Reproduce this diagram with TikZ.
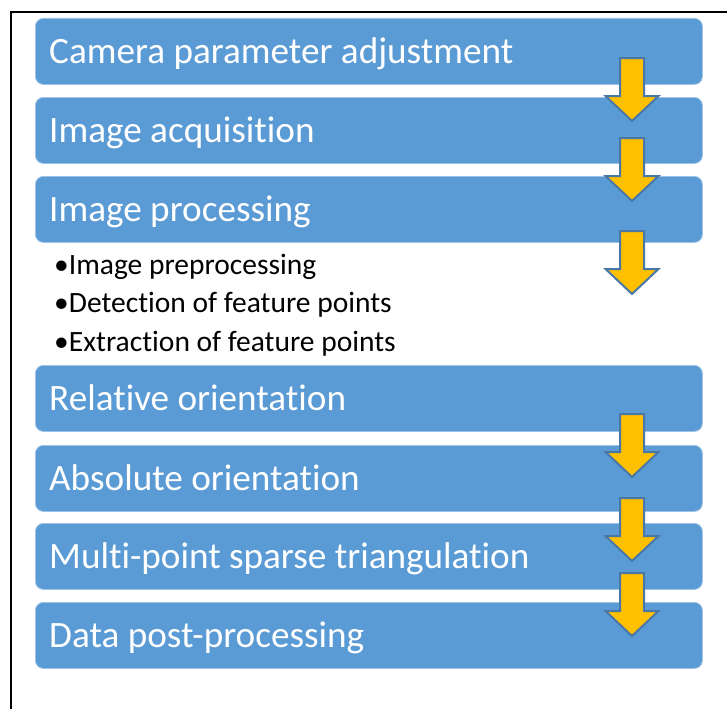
\documentclass[tikz,border=0pt]{standalone}
\usepackage{fontspec}
\setmainfont{Carlito}[Ligatures=NoCommon]
\usetikzlibrary{calc}
\definecolor{boxblue}{HTML}{5B9BD5}
\definecolor{arrowgold}{HTML}{FFC000}
\definecolor{arrowedge}{HTML}{4A78A6}
\begin{document}
\begin{tikzpicture}[x=1pt,y=-1pt,
  stepbox/.style={fill=boxblue, draw=boxblue!60!white, line width=0.8pt,
    rounded corners=8pt, minimum width=667, minimum height=66,
    anchor=north west, inner sep=0pt},
  steplabel/.style={anchor=base west, text=white, inner sep=0pt,
    font=\fontsize{37.2}{42}\selectfont},
  bulletline/.style={anchor=base west, inner sep=0pt,
    font=\fontsize{29.5}{33}\selectfont},
  flowarrow/.style={fill=arrowgold, draw=arrowedge, line width=2pt, line join=miter}]
\useasboundingbox (0,0) rectangle (727,709);

% frame (top and left edges)
\draw[line width=2.2pt] (10.7,709) -- (10.7,12) -- (727,12);

% process steps
\foreach \n/\top/\txt in {
    1/18/Camera parameter adjustment,
    2/97/Image acquisition,
    3/176/Image processing,
    4/365/Relative orientation,
    5/445/Absolute orientation,
    6/523/Multi-point sparse triangulation,
    7/602/Data post-processing} {
  \node[stepbox] (s\n) at (35,\top) {};
  \node[steplabel] (t\n) at ($(s\n.west)+(14,12)$) {\txt};
}

% sub-steps of image processing
\node[bulletline] (b1) at (54,274) {•Image preprocessing};
\node[bulletline] (b2) at (54,312) {•Detection of feature points};
\node[bulletline] (b3) at (54,351) {•Extraction of feature points};

% downward block arrows
\foreach \t in {58,138,231,414,498,573} {
  \draw[flowarrow] (620,\t) -- (644,\t) -- (644,\t+38) -- (658.5,\t+38)
    -- (632,\t+63) -- (605.5,\t+38) -- (620,\t+38) -- cycle;
}
\end{tikzpicture}
\end{document}
